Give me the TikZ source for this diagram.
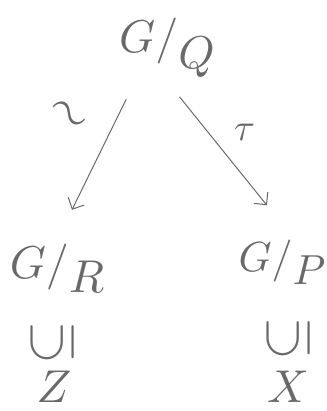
\documentclass[tikz,border=0pt]{standalone}
\usepackage{graphicx}
\usetikzlibrary{arrows.meta}
\definecolor{pencil}{RGB}{105,105,105}
\newcommand{\hand}[2][4.6]{\scalebox{#1}{#2}}

\begin{document}
\begin{tikzpicture}[x=1pt,y=-1pt,
  every node/.style={text=pencil},
  arr/.style={draw=pencil, line width=1pt, -{Straight Barb[length=9pt,width=18pt]}}]
\useasboundingbox (0,0) rectangle (326,411);
% quotients
\node (top) at (167,48) {\hand{$G/\raisebox{-0.35em}{$Q$}$}};
\node (left) at (57,268) {\hand{$G/\raisebox{-0.3em}{$R$}$}};
\node (right) at (282,262) {\hand[4.2]{$G/\raisebox{-0.3em}{$P$}$}};
% subsets below
\node (subl) at (52,343) {\hand[5.6]{\rotatebox[origin=c]{90}{$\subseteq$}}};
\node (subr) at (288,339) {\hand[5.6]{\rotatebox[origin=c]{90}{$\subseteq$}}};
\node (zl) at (54,387) {\hand{$Z$}};
\node (xr) at (288,387) {\hand{$X$}};
% maps
\draw[arr, shorten <=20pt, shorten >=34pt] ([xshift=-32pt]top.south) -- (left.north)
  node[pos=0.22, left=26pt] {\hand[5]{\rotatebox[origin=c]{-40}{$\sim$}}};
\draw[arr, shorten <=20pt, shorten >=40pt] ([xshift=0pt]top.south) -- ([xshift=10pt]right.north)
  node[pos=0.33, right=22pt] {\hand[3.8]{$\tau$}};
\end{tikzpicture}
\end{document}
